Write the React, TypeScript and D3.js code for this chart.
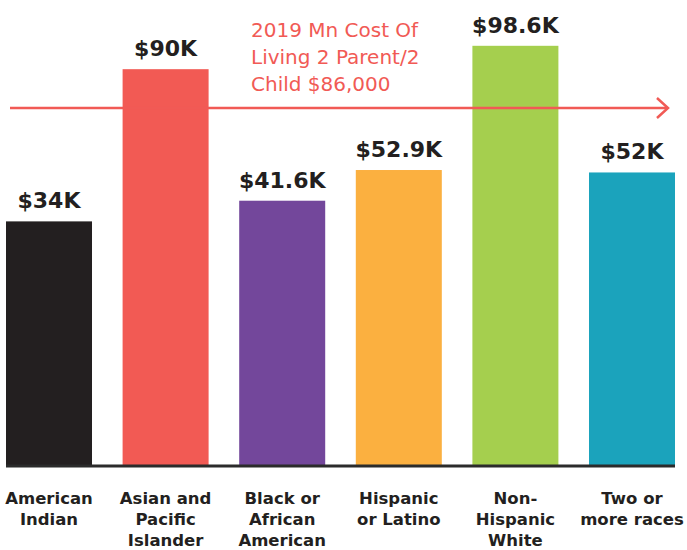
import React from 'react'
import * as d3 from 'd3'

// Median family income by race, Minnesota 2019 (thousands of dollars)
const categories = [
  ['American', 'Indian'],
  ['Asian and', 'Pacific', 'Islander'],
  ['Black or', 'African', 'American'],
  ['Hispanic', 'or Latino'],
  ['Non-', 'Hispanic', 'White'],
  ['Two or', 'more races'],
]
const values = [34, 90, 41.6, 52.9, 98.6, 52]
const valueLabels = ['$34K', '$90K', '$41.6K', '$52.9K', '$98.6K', '$52K']
const colors = ['#231f20', '#f25a54', '#73479b', '#fbb040', '#a5cf4e', '#1ba3bc']
const costLines = ['2019 Mn Cost Of', 'Living 2 Parent/2', 'Child $86,000']

const width = 687
const height = 550
const baseY = 466
const arrowY = 108

export default function App() {
  const x = d3
    .scaleBand<number>()
    .domain(d3.range(values.length))
    .range([6, 675])
    .paddingInner(0.2624)
    .paddingOuter(0)

  // the bars are not drawn from zero in the original, so the domain floor sits below it
  const y = d3.scaleLinear().domain([-56, 100]).range([baseY, baseY - 424])

  const red = '#f15a55'
  const dark = '#231f20'

  return (
    <svg
      width={width}
      height={height}
      style={{ position: 'absolute', left: 0, top: 0, background: '#fff' }}
      fontFamily="'DejaVu Sans', sans-serif"
    >
      {values.map((v, i) => (
        <g key={i}>
          <rect
            x={x(i)}
            y={y(v)}
            width={x.bandwidth()}
            height={baseY - y(v)}
            fill={colors[i]}
          />
          <text
            x={x(i)! + x.bandwidth() / 2}
            y={y(v) - 13}
            textAnchor="middle"
            fontSize={22}
            fontWeight="bold"
            fill={dark}
          >
            {valueLabels[i]}
          </text>
          <text
            x={x(i)! + x.bandwidth() / 2}
            textAnchor="middle"
            fontSize={16.5}
            fontWeight="bold"
            fill={dark}
          >
            {categories[i].map((line, j) => (
              <tspan key={j} x={x(i)! + x.bandwidth() / 2} y={504 + j * 21}>
                {line}
              </tspan>
            ))}
          </text>
        </g>
      ))}

      {/* baseline */}
      <line x1={6} x2={675} y1={baseY} y2={baseY} stroke="#2b2b2b" strokeWidth={3} />

      {/* cost of living annotation */}
      <line x1={10} x2={667} y1={arrowY} y2={arrowY} stroke={red} strokeWidth={2.5} />
      <polyline
        points={`657,${arrowY - 10} 668,${arrowY} 657,${arrowY + 10}`}
        fill="none"
        stroke={red}
        strokeWidth={2.5}
      />
      <text fontSize={20} fill={red}>
        {costLines.map((line, j) => (
          <tspan key={j} x={251} y={37 + j * 27}>
            {line}
          </tspan>
        ))}
      </text>
    </svg>
  )
}
